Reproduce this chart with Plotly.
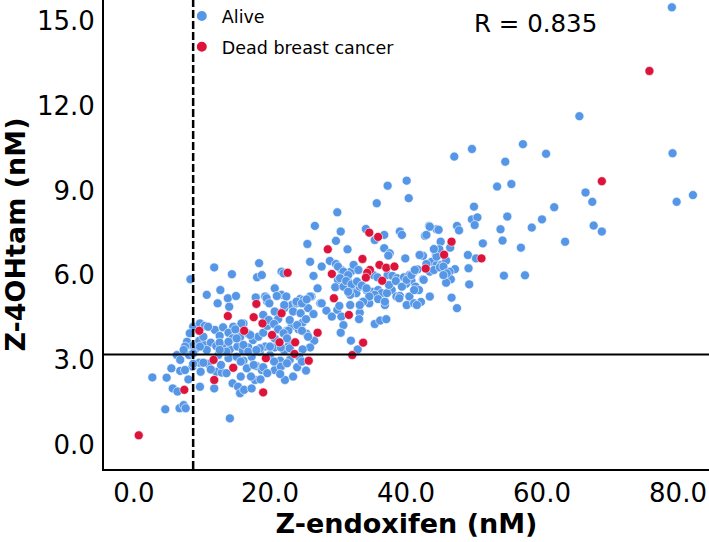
import plotly.graph_objects as go

alive_x = [79.1, 65.5, 79.2, 47.1, 49.7, 57.2, 54.6, 60.6, 53.4, 55.5, 66.4, 82.2, 79.8, 67.4,
           50.0, 61.8, 54.9, 49.7, 50.5, 50.1, 43.4, 44.5, 42.8, 47.5, 47.8, 60.0, 58.5, 53.9, 67.6, 68.8,
           54.2, 63.4, 51.3, 45.1, 46.5, 56.9, 42.5, 49.1, 50.3, 49.2, 47.2, 46.4, 42.5, 46.6, 45.9, 49.3,
           54.4, 57.5, 43.5, 46.7, 42.2, 47.5, 44.4, 44.9, 43.8, 44.5, 45.2, 45.9, 43.5, 44.1, 45.0, 43.0,
           11.8, 14.4, 8.3, 18.4, 18.1, 12.7, 10.7, 13.8, 15.0, 17.9,
           40.4, 35.7, 29.9, 26.6, 30.4, 36.8, 35.4, 34.1, 39.1, 39.4, 29.7, 25.5, 31.4, 36.8, 37.6, 39.9,
           42.0, 25.9, 28.8, 29.7, 21.7, 27.6, 26.4, 30.5, 31.2, 31.9, 30.8, 30.0, 31.5, 35.2, 35.8, 37.3,
           38.0, 38.7, 39.7, 40.5, 41.2, 41.7, 40.8, 40.0, 41.4, 41.9, 18.8, 20.7, 19.3, 21.7, 22.4, 24.4,
           26.1, 27.0, 29.6, 30.8, 32.2, 32.7, 31.8, 33.2, 34.2, 35.0, 35.9, 36.4, 37.9, 38.6, 39.1, 40.5,
           37.3, 40.1,
           12.3, 14.0, 16.1, 14.6, 8.7, 9.7, 10.4, 11.9, 13.1, 13.9, 15.1, 12.6, 14.5, 15.6, 16.8, 17.5,
           18.3, 8.2, 7.8, 8.6, 9.6, 10.3, 11.3, 12.1, 7.5, 9.0, 13.1, 14.1, 15.2, 16.0, 16.8, 17.8,
           6.3, 8.1, 9.6, 10.9, 12.4, 13.9, 15.1, 16.1, 17.3, 18.0, 5.5, 6.8, 8.6, 12.1, 12.9, 13.6,
           16.6, 2.7, 4.8, 8.0, 9.7, 11.8, 14.5, 15.3, 15.6, 16.2, 17.3, 17.8, 5.7, 6.4, 4.6, 6.7,
           7.3, 7.6, 14.1,
           19.6, 20.7, 22.1, 23.4, 24.5, 25.6, 26.4, 27.4, 28.3, 29.1, 29.9, 30.5, 30.2, 30.8, 30.4, 33.2,
           33.1, 35.4, 36.2, 37.1, 31.9, 32.9, 34.6, 36.9, 39.0, 40.1, 41.2, 18.5, 19.0, 19.6, 20.5, 21.2,
           19.3, 20.7, 20.0, 22.1, 22.8, 22.5, 23.2, 24.2, 24.8, 25.4, 26.5, 25.9, 24.8, 21.5, 20.7, 22.2,
           18.8, 18.6, 24.3, 22.9,
           30.0, 30.8, 31.5, 30.3, 31.2, 32.0, 32.8, 33.5, 34.2, 35.4, 34.6, 35.9, 33.7, 36.9, 37.2, 37.5,
           38.5, 39.4, 40.1, 40.8, 41.3, 41.2, 42.6, 44.5, 45.5, 46.0, 44.1, 43.0, 43.5, 44.8, 22.0, 23.2,
           23.9, 24.9, 25.9, 27.6, 31.5, 31.8, 33.2, 41.6, 37.4, 45.5, 32.3, 33.0,
           19.5, 19.9, 21.0, 22.1, 23.9, 24.7, 25.4, 23.4, 24.5, 22.9, 25.3, 24.0, 22.7, 24.7, 25.6,
           19.0, 19.8, 20.6, 21.2, 22.0, 20.7, 22.5, 21.6, 22.9, 20.0, 18.5,
           15.8, 14.9, 10.9, 10.2, 12.6, 13.9, 15.1, 16.1, 16.8, 18.0, 13.6, 12.6, 10.7, 9.7, 7.3, 8.7, 17.1,
           6.8, 8.7, 10.2, 11.3, 12.8, 15.7, 17.6, 7.5, 9.8, 15.7, 17.2,
           19.0, 20.6, 21.6, 22.5, 24.0, 24.7, 19.6, 21.5, 23.4, 25.3]
alive_y = [15.48, 11.63, 10.32, 10.2, 10.47, 10.64, 10.02, 10.3, 9.14, 9.23, 8.93, 8.84, 8.6, 8.6,
           8.43, 8.41, 8.08, 7.98, 8.05, 7.78, 7.75, 7.63, 7.4, 7.75, 7.59, 7.98, 7.69, 7.63, 7.76, 7.55,
           7.23, 7.19, 7.13, 7.19, 6.98, 6.98, 6.69, 6.72, 6.6, 6.25, 6.22, 6.13, 5.86, 5.86, 5.74, 5.68,
           5.99, 6.0, 5.25, 5.21, 5.06, 4.84, 6.72, 6.92, 6.48, 6.37, 6.37, 6.52, 6.13, 6.19, 6.28, 6.4,
           6.28, 6.04, 5.86, 6.43, 5.93, 5.48, 5.31, 5.19, 5.27, 5.22,
           8.73, 8.55, 8.23, 7.75, 7.55, 7.43, 7.25, 7.64, 7.55, 7.43, 7.22, 7.11, 6.92, 6.96, 6.78, 6.6,
           6.72, 6.48, 6.51, 6.4, 6.13, 6.31, 5.98, 6.19, 6.05, 6.13, 5.93, 5.84, 5.78, 6.01, 5.93, 6.01,
           5.98, 5.9, 5.93, 6.01, 6.13, 6.21, 5.81, 5.7, 5.6, 5.48, 6.01, 5.54, 5.25, 5.31, 5.25, 5.16,
           5.25, 5.54, 5.58, 5.6, 5.48, 5.37, 5.31, 5.6, 5.48, 5.42, 5.48, 5.37, 5.48, 5.25, 5.27, 5.25,
           9.17, 9.35,
           5.01, 4.89, 4.3, 4.18, 4.18, 4.3, 4.21, 4.07, 4.16, 3.97, 3.97, 3.86, 3.77, 3.81, 3.93, 3.71,
           3.83, 3.95, 3.65, 3.5, 3.69, 3.54, 3.62, 3.5, 3.48, 3.38, 3.45, 3.38, 3.48, 3.34, 3.45, 3.3,
           3.18, 3.18, 2.91, 2.87, 3.18, 3.07, 3.12, 2.98, 3.12, 2.79, 2.71, 2.62, 2.77, 2.59, 2.56, 2.54,
           2.71, 2.39, 2.38, 2.32, 2.06, 2.0, 2.18, 2.06, 1.83, 1.95, 2.0, 2.3, 2.0, 1.89, 1.26, 1.3,
           1.41, 1.3, 0.94,
           5.07, 4.72, 4.84, 4.95, 5.03, 4.84, 4.63, 5.01, 4.75, 4.54, 4.78, 4.54, 4.92, 4.24, 3.97, 4.68,
           4.45, 4.28, 4.4, 4.45, 3.69, 3.38, 5.01, 4.95, 5.19, 4.95, 5.01, 3.3, 3.97, 4.21, 4.33, 4.45,
           3.48, 3.45, 3.18, 3.34, 3.54, 4.04, 4.21, 4.09, 4.33, 3.93, 3.69, 3.45, 3.38, 2.98, 2.65, 2.3,
           2.65, 2.32, 3.12, 3.01,
           6.31, 6.13, 6.01, 5.9, 5.8, 5.68, 5.78, 5.64, 5.54, 5.31, 5.25, 5.16, 5.07, 5.07, 5.37, 5.66,
           5.8, 5.6, 5.84, 6.01, 6.19, 5.48, 5.84, 6.66, 6.31, 6.07, 6.93, 7.43, 7.72, 7.61, 6.07, 4.95,
           5.01, 5.13, 5.25, 5.01, 5.42, 4.95, 4.95, 4.95, 6.7, 6.01, 6.37, 6.19,
           5.19, 5.01, 5.27, 4.95, 5.07, 5.01, 5.15, 4.72, 4.66, 4.42, 4.45, 4.24, 4.04, 4.04, 3.83,
           4.6, 4.42, 4.28, 4.09, 3.95, 3.77, 3.77, 3.45, 3.42, 3.48, 3.42,
           4.3, 4.09, 4.18, 3.83, 3.62, 3.65, 3.77, 3.54, 3.3, 3.36, 3.3, 3.36, 3.36, 3.48, 3.36, 3.24, 3.89,
           3.01, 2.87, 2.91, 2.67, 2.83, 2.95, 2.83, 2.65, 2.59, 2.42, 2.42,
           2.75, 2.95, 2.77, 2.89, 2.75, 2.95, 2.54, 2.51, 2.42, 2.63]

dead_x = [75.8, 68.8, 46.7, 45.6, 51.1, 42.9, 34.6, 35.9, 28.5, 33.6, 36.1, 37.1, 38.3, 22.6, 29.1,
          34.7, 34.3, 34.1, 36.5, 29.4, 18.0, 13.8, 17.6, 16.2, 9.6, 11.7, 14.6, 11.8, 7.4, 0.7,
          21.7, 18.9, 31.6, 20.3, 21.4, 23.7, 27.0, 33.7, 23.6, 19.4, 25.7, 32.1, 19.0]
dead_y = [13.23, 9.33, 7.19, 6.73, 6.6, 6.24, 7.51, 7.36, 6.92, 6.58, 6.37, 6.27, 6.31, 6.09, 6.05,
          6.19, 6.09, 5.92, 5.81, 5.19, 4.99, 4.56, 4.52, 4.04, 4.04, 3.01, 2.73, 2.3, 1.95, 0.34,
          4.66, 4.3, 4.6, 3.89, 3.63, 3.63, 3.97, 3.62, 3.22, 3.07, 2.98, 3.18, 1.86]

x_ticks = [0, 20, 40, 60, 80]
x_tick_labels = ["0.0", "20.0", "40.0", "60.0", "80.0"]
y_ticks = [0, 3, 6, 9, 12, 15]
y_tick_labels = ["0.0", "3.0", "6.0", "9.0", "12.0", "15.0"]
x_cutoff = 8.7
y_cutoff = 3.2
r_text = "R = 0.835"

BLUE = "#5596E6"
RED = "#DC143C"
FONT = "DejaVu Sans"

fig = go.Figure()
fig.add_trace(go.Scatter(x=alive_x, y=alive_y, mode="markers", name="Alive", legendgroup="a",
                         marker=dict(color=BLUE, size=9, line=dict(color="white", width=0.6))))
fig.add_trace(go.Scatter(x=dead_x, y=dead_y, mode="markers", name="Dead breast cancer", legendgroup="b",
                         marker=dict(color=RED, size=9, line=dict(color="white", width=0.6))))

fig.add_shape(type="line", xref="paper", yref="y", x0=0, x1=1, y0=y_cutoff, y1=y_cutoff,
              line=dict(color="black", width=2))
fig.add_shape(type="line", xref="x", yref="paper", x0=x_cutoff, x1=x_cutoff, y0=0, y1=1,
              line=dict(color="black", width=2.5, dash="8px,3px"))

fig.add_annotation(text=r_text, xref="paper", yref="paper", x=0.714, y=0.949, showarrow=False,
                   font=dict(family=FONT, size=24.5, color="black"), xanchor="center", yanchor="middle")

fig.update_layout(
    width=709, height=542,
    margin=dict(l=104, r=0, t=0, b=73, autoexpand=False),
    plot_bgcolor="white", paper_bgcolor="white",
    font=dict(family=FONT, color="black"),
    showlegend=True,
    legend=dict(x=0.1286, y=1.004, xanchor="left", yanchor="top", bgcolor="rgba(0,0,0,0)",
                font=dict(family=FONT, size=17.5), itemsizing="constant", tracegroupgap=5),
    xaxis=dict(range=[-4.41, 84.56], tickvals=x_ticks, ticktext=x_tick_labels, automargin=False,
               showgrid=False, zeroline=False, showline=True, linecolor="black", linewidth=2,
               ticks="", tickfont=dict(family=FONT, size=26), ticklabelstandoff=0,
               title=dict(text="<b>Z-endoxifen (nM)</b>", font=dict(family=FONT, size=27), standoff=2)),
    yaxis=dict(range=[-0.85, 15.74], tickvals=y_ticks, ticktext=y_tick_labels, automargin=False,
               showgrid=False, zeroline=False, showline=True, linecolor="black", linewidth=2,
               ticks="", tickfont=dict(family=FONT, size=26), ticklabelstandoff=2,
               title=dict(text="<b>Z-4OHtam (nM)</b>", font=dict(family=FONT, size=27), standoff=20)),
)

fig.write_html("out.html", config={"displayModeBar": False},
               post_script="document.body.style.margin='0';document.body.style.padding='0';"
                           "document.body.style.overflow='hidden';")
